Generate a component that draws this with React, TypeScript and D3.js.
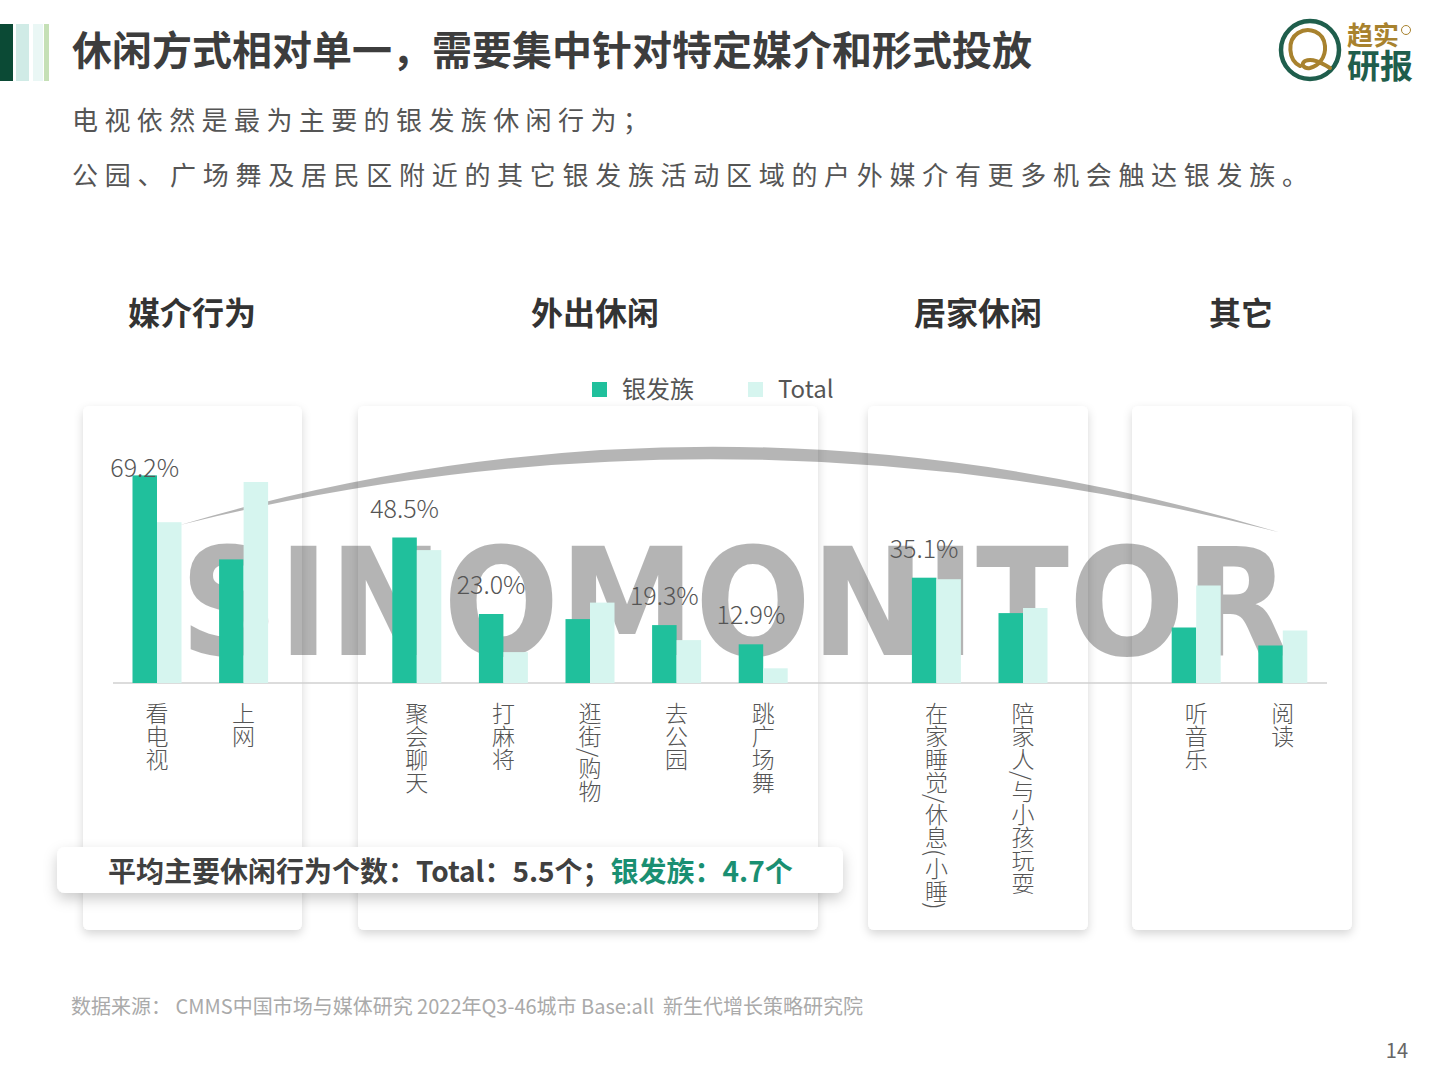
import React from "react";
import * as d3 from "d3";

const groupNames = ["媒介行为", "外出休闲", "居家休闲", "其它"];
const categories = ["看电视", "上网", "聚会聊天", "打麻将", "逛街/购物", "去公园", "跳广场舞", "在家睡觉/休息(小睡)", "陪家人/与小孩玩耍", "听音乐", "阅读"];
const categoryGroup = [0, 0, 1, 1, 1, 1, 1, 2, 2, 3, 3];
const silverValues = [69.2, 41.2, 48.5, 23.0, 21.3, 19.3, 12.9, 35.1, 23.3, 18.5, 12.5];
const totalValues = [53.6, 67.0, 44.3, 10.3, 26.8, 14.3, 4.9, 34.6, 25.0, 32.5, 17.5];
const showLabel = [true, false, true, true, false, true, true, true, false, false, false];
const seriesNames = ["银发族", "Total"];
const seriesColors = ["#20c09c", "#d6f5ef"];

const FONT = "'Noto Sans CJK SC', 'Noto Sans', sans-serif";
const W = 1440;
const H = 1080;

// layout
const cardBoxes = [
  { x0: 83, x1: 302 },
  { x0: 358, x1: 818 },
  { x0: 868, x1: 1088 },
  { x0: 1132, x1: 1352 },
];
const groupTitleX = [192, 595, 978, 1241];

export default function App() {
  const slotKeys: string[] = [];
  groupNames.forEach((g, gi) => {
    categories.forEach((c, ci) => {
      if (categoryGroup[ci] === gi) slotKeys.push(c);
    });
    if (gi < groupNames.length - 1) slotKeys.push("gap" + gi);
  });

  const x = d3.scaleBand<string>().domain(slotKeys).range([113.7, 1326.1]).paddingInner(0).paddingOuter(0);
  const inner = d3.scaleBand<string>().domain(seriesNames).range([x.bandwidth() / 2 - 24.5, x.bandwidth() / 2 + 24.5]).padding(0);
  const y = d3.scaleLinear().domain([0, 75]).range([683, 458]);

  return (
    <svg width={W} height={H} style={{ display: "block", position: "absolute", left: 0, top: 0, background: "#fff" }} fontFamily={FONT}>
      <defs>
        <filter id="cardShadow" x="-20%" y="-10%" width="140%" height="125%">
          <feDropShadow dx="0" dy="4" stdDeviation="5" floodColor="#000" floodOpacity="0.16" />
        </filter>
        <filter id="boxShadow" x="-10%" y="-40%" width="120%" height="200%">
          <feDropShadow dx="0" dy="6" stdDeviation="7" floodColor="#000" floodOpacity="0.2" />
        </filter>
      </defs>
      <rect x={0} y={0} width={W} height={H} fill="#fff" />

      {/* header bars */}
      <rect x={0} y={24} width={13} height={57} fill="#0b4a35" />
      <rect x={16} y={24} width={13} height={57} fill="#d0ebe6" />
      <rect x={33} y={24} width={10} height={57} fill="#eaf7f5" />
      <rect x={44} y={24} width={5} height={57} fill="#c5e0b6" />

      <text x={72} y={65} fontSize={40} fontWeight="bold" fill="#3d3d3d">休闲方式相对单一，需要集中针对特定媒介和形式投放</text>
      <text x={72} y={130} fontSize={26} letterSpacing={6.4} fill="#555">电视依然是最为主要的银发族休闲行为；</text>
      <text x={72} y={185} fontSize={26} letterSpacing={6.7} fill="#555">公园、广场舞及居民区附近的其它银发族活动区域的户外媒介有更多机会触达银发族。</text>

      {/* logo */}
      <g>
        <circle cx={1310} cy={50} r={29} fill="none" stroke="#1f5e4c" strokeWidth={4.5} />
        <path d="M1300,66 C1288,60 1287,40 1298,33 C1309,26 1324,32 1325,46 C1326,58 1318,66 1310,68 C1304,69 1300,64 1305,61 C1312,58 1320,62 1330,68"
          fill="none" stroke="#a8822e" strokeWidth={4} strokeLinecap="round" />
        <text x={1347} y={45} fontSize={26} fontWeight="bold" fill="#a8822e">趋实</text>
        <circle cx={1406} cy={30} r={4.5} fill="none" stroke="#a8822e" strokeWidth={1} />
        <text x={1347} y={78} fontSize={33} fontWeight="bold" fill="#1f5e4c">研报</text>
      </g>

      {/* group titles */}
      {groupNames.map((g, i) => (
        <text key={g} x={groupTitleX[i]} y={325} fontSize={32} fontWeight="bold" fill="#333" textAnchor="middle">{g}</text>
      ))}

      {/* legend */}
      {seriesNames.map((s, i) => (
        <g key={s} transform={`translate(${592 + i * 156},382)`}>
          <rect x={0} y={0} width={15} height={15} fill={seriesColors[i]} />
          <text x={30} y={16} fontSize={24} fill="#555">{s}</text>
        </g>
      ))}

      {/* cards */}
      {cardBoxes.map((c, i) => (
        <rect key={i} x={c.x0} y={406} width={c.x1 - c.x0} height={524} rx={6} fill="#fff" filter="url(#cardShadow)" />
      ))}

      {/* watermark */}
      <g opacity={0.29}>
        <path d="M180,525 Q720,365 1278,532 Q720,390 180,525 Z" fill="#000" />
        <text x={180} y={655} fontSize={150} fontWeight="bold" fontFamily="'DejaVu Sans', sans-serif" textLength={1110} lengthAdjust="spacingAndGlyphs" fill="#000">SINOMONITOR</text>
      </g>

      {/* axis */}
      <line x1={113} x2={1327} y1={683} y2={683} stroke="#d0d0d0" strokeWidth={1.5} />

      {/* bars */}
      {categories.map((c, i) => {
        const x0 = x(c) as number;
        const vals = [silverValues[i], totalValues[i]];
        return (
          <g key={c} transform={`translate(${x0},0)`}>
            {seriesNames.map((s, si) => (
              <rect key={s} x={inner(s) as number} y={y(vals[si])} width={inner.bandwidth()} height={y(0) - y(vals[si])} fill={seriesColors[si]} />
            ))}
            {showLabel[i] && (
              <text x={(inner(seriesNames[0]) as number) + inner.bandwidth() / 2} y={Math.max(y(silverValues[i]) - 20, 477)} fontSize={25} fontWeight={300} fill="#555" textAnchor="middle">
                {silverValues[i].toFixed(1)}%
              </text>
            )}
            <text x={x.bandwidth() / 2} y={702} fontSize={23} fontWeight={300} fill="#555" style={{ writingMode: "vertical-rl" }}>{c}</text>
          </g>
        );
      })}

      {/* summary box */}
      <rect x={57} y={847} width={786} height={46} rx={8} fill="#fff" filter="url(#boxShadow)" />
      <text x={108} y={882} fontSize={28} fontWeight="bold" fill="#404040">
        平均主要休闲行为个数：Total：5.5个；<tspan fill="#1a8f72">银发族：4.7个</tspan>
      </text>

      {/* footer */}
      <text x={71} y={1014} fontSize={20} fill="#aaa" style={{ whiteSpace: "pre" }}>数据来源： CMMS中国市场与媒体研究 2022年Q3-46城市 Base:all  新生代增长策略研究院</text>
      <text x={1408} y={1058} fontSize={20} fill="#666" textAnchor="end">14</text>
    </svg>
  );
}
